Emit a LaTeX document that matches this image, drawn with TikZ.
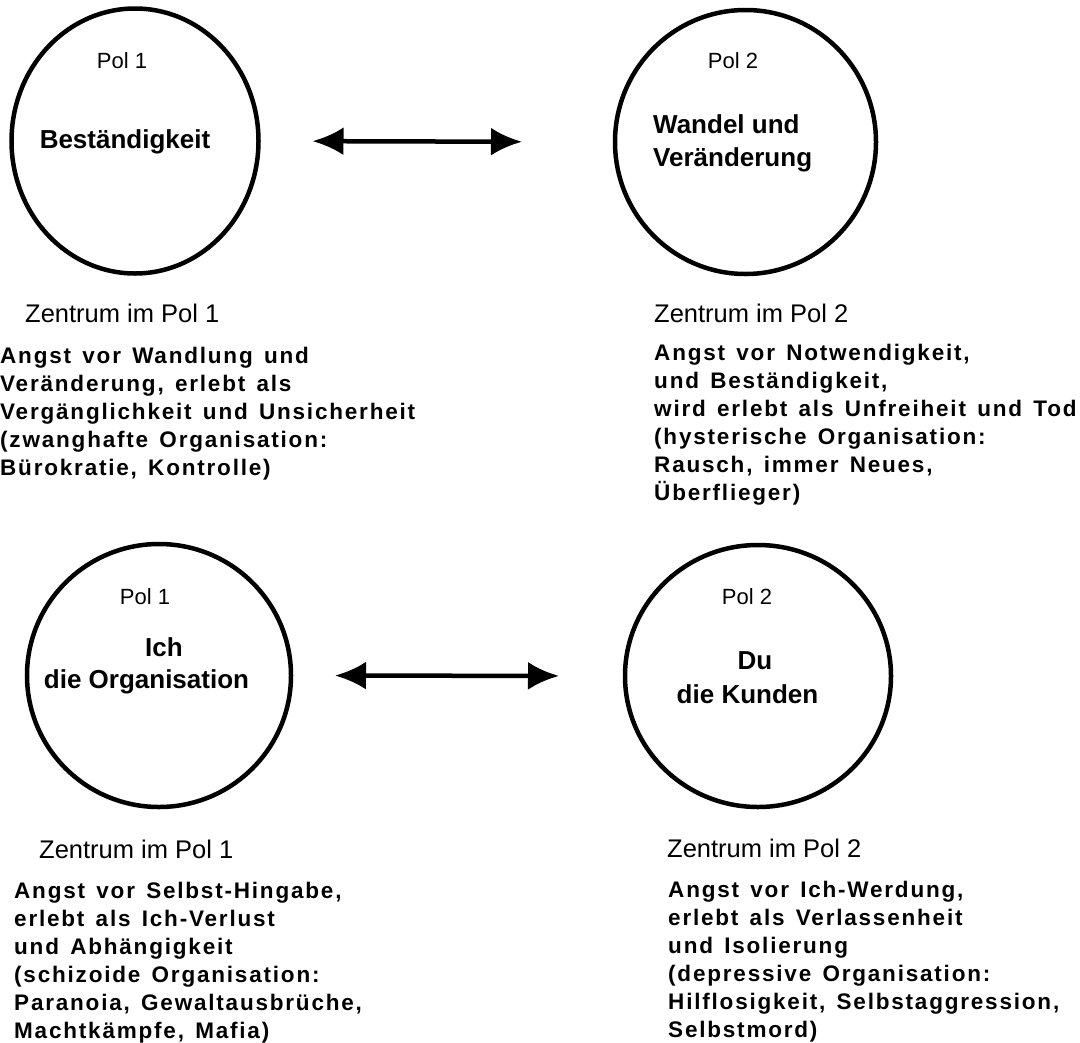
\documentclass[tikz,border=0pt]{standalone}
\usepackage{fontspec}
\setmainfont{Liberation Sans}
\newfontfamily\spacedfont[LetterSpace=8,WordSpace=1.4]{Liberation Sans}
\usepackage{tikz}
\usetikzlibrary{
  shapes.geometric,
  arrows.meta,
  positioning,
  }
\newcommand{\rows}[1]{\begin{tabular}[t]{@{}l@{}}#1\end{tabular}}
\tikzset{
  pole/.style={ellipse, draw, line width=4.5bp, inner sep=0pt, outer sep=0pt},
  poltag/.style={anchor=base, font=\fontsize{22bp}{26bp}\selectfont},
  polname/.style={font=\fontsize{26bp}{33bp}\selectfont\bfseries},
  zentrum/.style={anchor=base west, font=\fontsize{25.5bp}{30bp}\selectfont},
  angst/.style={anchor=base west, font=\fontsize{22.5bp}{28bp}\spacedfont\bfseries},
  pull/.style={{Latex[length=31bp,width=28bp]}-{Latex[length=31bp,width=28bp]}, line width=4.5bp},
}

\begin{document}
\begin{tikzpicture}[x=1bp, y=-1bp, every node/.style={inner sep=0pt}]
                    \useasboundingbox (0,0) rectangle (1080,1043);
                    \node[pole, minimum width=247bp, minimum height=265bp] (best) at (135,141) {};
                    \node[pole, minimum width=261bp, minimum height=264bp] (wandel) at (745.5,142) {};
                    \node[pole, minimum width=264bp, minimum height=263bp] (ich) at (159,675.5) {};
                    \node[pole, minimum width=266bp, minimum height=262bp] (du) at (758,676) {};

                    \node[poltag] (tag1) at (122,68) {Pol 1};
                    \node[polname, anchor=base] (name1) at (125,148) {Beständigkeit};
                    \node[poltag] (tag2) at (733,68) {Pol 2};
                    \node[polname, anchor=base west] (name2) at (653,133) {\rows{Wandel und\\Veränderung}};
                    \node[poltag] (tag3) at (145,604) {Pol 1};
                    \node[polname, anchor=base] (name3) at (164,656) {Ich};
                    \node[polname, anchor=base] (name3b) at (146.5,688) {die Organisation};
                    \node[poltag] (tag4) at (747,604) {Pol 2};
                    \node[polname, anchor=base] (name4) at (755,669) {Du};
                    \node[polname, anchor=base] (name4b) at (747.5,703) {die Kunden};

                    \draw[pull, shorten <=54bp, shorten >=93bp] (best.east) -- (wandel.west);
                    \draw[pull, shorten <=44bp, shorten >=66bp] (ich.east) -- (du.west);

                    \node[zentrum] (z1) at (25,322) {Zentrum im Pol 1};
                    \node[angst] (a1) at (0,363) {\rows{Angst vor Wandlung und\\Veränderung, erlebt als\\Vergänglichkeit und Unsicherheit\\(zwanghafte Organisation:\\Bürokratie, Kontrolle)}};
                    \node[zentrum] (z2) at (654,322) {Zentrum im Pol 2};
                    \node[angst] (a2) at (654,360) {\rows{Angst vor Notwendigkeit,\\und Beständigkeit,\\wird erlebt als Unfreiheit und Tod\\(hysterische Organisation:\\Rausch, immer Neues,\\Überflieger)}};
                    \node[zentrum] (z3) at (39,858) {Zentrum im Pol 1};
                    \node[angst] (a3) at (14,898) {\rows{Angst vor Selbst-Hingabe,\\erlebt als Ich-Verlust\\und Abhängigkeit\\(schizoide Organisation:\\Paranoia, Gewaltausbrüche,\\Machtkämpfe, Mafia)}};
                    \node[zentrum] (z4) at (667,857) {Zentrum im Pol 2};
                    \node[angst] (a4) at (668,897) {\rows{Angst vor Ich-Werdung,\\erlebt als Verlassenheit\\und Isolierung\\(depressive Organisation:\\Hilflosigkeit, Selbstaggression,\\Selbstmord)}};
                \end{tikzpicture}
\end{document}
